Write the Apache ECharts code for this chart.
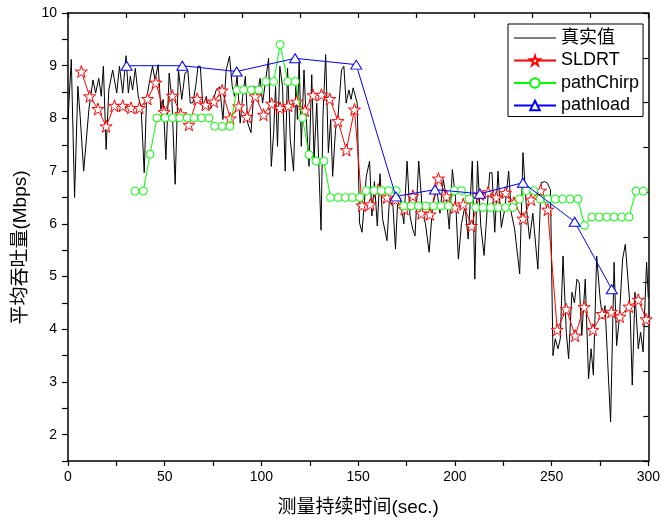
<!DOCTYPE html>
<html><head><meta charset="utf-8">
<script src="https://cdn.jsdelivr.net/npm/echarts@6/dist/echarts.min.js"></script>
<style>html,body{margin:0;padding:0;background:#fff;}#c{width:663px;height:522px;}</style>
</head><body><div id="c"></div>
<script>
// ---- data ----
const seriesNames = ['真实值', 'SLDRT', 'pathChirp', 'pathload'];
const xTickLabels = [0, 50, 100, 150, 200, 250, 300];
const yTickLabels = [2, 3, 4, 5, 6, 7, 8, 9, 10];

const realX = [0,1.7,3.4,5.1,6.3,8.1,10.8,12.9,14.3,15.9,17.2,18.3,19.7,21.1,23.1,25.2,26.6,28.3,30.0,31.2,32.2,33.4,34.8,36.3,37.8,39.4,40.6,42.0,43.7,45.0,46.6,48.0,49.2,50.6,52.3,53.7,55.4,57.1,58.8,60.5,62.0,63.2,64.6,66.0,67.2,68.4,69.8,71.5,72.7,74.1,76.6,78.4,80.1,81.8,83.5,84.9,86.1,87.4,89.0,90.3,91.7,92.9,94.6,96.3,97.5,99.3,100.6,102.3,103.7,105.1,106.3,107.3,108.3,109.5,110.9,112.3,113.5,114.9,116.6,117.8,118.6,119.5,120.6,122.0,122.9,124.6,126.0,127.2,128.6,130.8,131.8,133.2,134.6,135.8,136.8,138.3,139.5,141.4,142.6,143.8,145.2,146.3,147.4,149.5,150.7,152.0,153.2,154.2,155.9,157.1,158.4,159.9,161.3,162.6,164.9,166.2,168.0,169.3,170.5,172.2,173.6,175.3,176.8,178.2,179.4,181.3,183.3,184.8,186.7,188.5,190.6,192.3,194.0,195.6,197.1,198.7,200.3,201.8,203.4,205.2,206.9,209.0,210.3,211.7,213.4,215.1,216.8,218.0,219.2,220.6,222.3,224.0,225.8,227.8,229.2,230.9,233.5,235.2,236.9,238.6,240.3,242.9,244.6,246.3,247.6,249.4,250.7,251.9,253.3,254.5,255.9,257.6,258.8,260.5,261.8,263.1,264.3,265.6,267.4,269.1,270.4,271.6,273.3,275.1,276.4,277.6,279.0,280.5,282.3,283.6,285.0,286.7,288.1,289.1,290.5,291.7,293.1,294.8,296.0,297.3,299.1,300];
const realY = [7.98,9.12,6.5,8.61,8.04,7.0,8.17,8.73,8.48,8.76,8.42,8.99,7.41,8.54,8.92,8.48,8.99,8.48,9.19,8.48,8.8,8.54,8.95,8.42,8.2,6.97,8.36,8.67,8.99,8.73,9.02,8.17,8.36,7.22,8.86,8.36,6.75,8.92,8.36,8.86,8.9,8.29,8.3,8.6,8.99,8.99,8.17,8.42,8.17,8.2,8.54,8.6,7.98,8.92,9.18,8.61,8.42,8.8,7.91,8.42,8.8,7.91,7.73,8.61,8.36,8.76,8.29,8.76,9.14,7.09,7.73,8.61,7.47,8.99,8.61,7.0,8.95,7.6,7.0,8.61,7.98,9.11,7.47,8.92,8.17,7.09,8.83,7.22,8.29,5.88,8.04,9.21,7.35,7.98,6.9,7.79,8.0,8.92,8.99,8.29,8.54,8.36,8.58,8.29,6.02,5.84,6.4,6.9,7.19,6.15,6.8,5.96,6.95,6.1,5.68,6.46,6.33,5.52,6.5,6.4,6.0,7.19,6.15,5.9,5.77,7.19,6.2,6.0,5.46,6.35,6.66,6.2,6.84,6.5,5.9,7.03,6.5,5.33,6.0,6.34,5.71,7.19,4.95,7.19,5.96,5.4,6.34,6.97,6.97,5.84,7.0,5.93,6.28,7.0,6.2,5.9,5.05,7.35,6.34,5.71,6.2,5.14,6.78,6.8,6.78,6.65,3.5,3.82,3.63,3.82,5.39,3.94,3.44,4.7,4.5,4.95,4.88,3.88,4.95,3.06,3.63,3.13,5.39,4.57,4.2,4.45,3.38,2.24,5.27,3.69,4.2,5.33,5.61,5.58,4.45,2.94,4.7,3.63,3.94,3.57,5.27,4.6];

const sldrtX = [6.9,11.2,15.5,19.7,24.0,28.3,32.6,36.9,41.1,45.4,49.7,54.0,58.3,62.5,66.8,71.1,75.4,79.7,83.9,88.2,92.5,96.8,101.1,105.3,109.6,113.9,118.2,122.5,126.7,131.0,135.3,139.6,143.9,148.1,152.0,156.3,160.4,164.9,169.3,174.0,178.3,182.7,187.1,191.5,195.7,200.0,204.3,208.6,212.9,217.2,221.4,226.2,230.5,235.2,239.4,244.3,248.0,252.9,257.6,262.2,266.8,271.4,276.1,280.9,285.3,290.0,294.8,298.9];
const sldrtY = [8.89,8.42,8.18,7.85,8.24,8.24,8.2,8.2,8.37,8.68,8.12,8.43,8.08,7.88,8.37,8.26,8.32,8.53,8.0,8.23,8.03,8.42,8.07,8.28,8.2,8.24,8.32,8.15,8.44,8.45,8.37,7.95,7.40,8.17,6.35,6.37,6.65,6.5,6.46,6.28,6.53,6.2,6.18,6.86,6.52,6.31,6.37,5.96,6.56,6.6,6.5,6.59,6.4,6.1,6.46,6.63,6.27,3.99,4.38,3.88,4.42,3.99,4.29,4.33,4.24,4.43,4.56,4.19];

const chirpX = [34.7,38.9,42.4,46.0,50.2,54.0,57.8,61.7,65.1,69.1,72.9,75.8,79.7,83.7,87.4,90.8,94.8,98.6,102.3,106.3,109.7,113.6,117.4,121.2,124.6,128.2,132.3,135.7,139.7,143.4,147.0,150.8,154.2,158.2,162.0,165.8,169.7,173.6,177.4,181.2,185.1,189.0,192.8,196.6,199.7,203.4,207.4,210.8,214.6,218.5,222.3,226.2,230.0,233.4,237.0,240.8,244.2,248.0,251.9,255.7,259.6,263.6,267.0,270.8,274.6,278.5,282.3,286.2,290.0,293.6,297.4];
const chirpY = [6.62,6.62,7.32,8.01,8.01,8.01,8.01,8.01,8.01,8.01,8.01,7.85,7.85,7.85,8.54,8.54,8.54,8.54,8.70,8.70,9.40,8.70,8.70,8.01,7.31,7.19,7.19,6.50,6.50,6.50,6.50,6.50,6.63,6.63,6.63,6.63,6.63,6.34,6.34,6.34,6.34,6.34,6.34,6.34,6.63,6.63,6.47,6.31,6.31,6.31,6.31,6.31,6.31,6.47,6.63,6.63,6.47,6.47,6.47,6.47,6.47,6.47,5.97,6.13,6.13,6.13,6.13,6.13,6.13,6.62,6.62];

const loadX = [30.3,59.1,87.2,117.4,149.0,169.5,189.7,212.9,235.2,261.9,281.1];
const loadY = [9.0,9.0,8.89,9.14,9.02,6.52,6.65,6.57,6.78,6.04,4.76];

// ---- chart ----
const zip = (xs, ys) => xs.map((x, i) => [x, ys[i]]);
const LAT = '"Liberation Sans", Arial, "Noto Sans CJK SC", sans-serif';
const STAR = 'path://M50,0 L61.8,35.1 L98.9,35.1 L69.1,56.7 L80.3,91.9 L50,70.2 L19.7,91.9 L30.9,56.7 L1.1,35.1 L38.2,35.1 Z';
const LINE_ICON = 'path://M0,0 L100,0 L100,2.6 L0,2.6 Z';
const axisLine = {show: true, onZero: false, lineStyle: {color: '#000', width: 1.5}};

const chart = echarts.init(document.getElementById('c'), null, {renderer: 'canvas'});
chart.setOption({
  animation: false,
  backgroundColor: '#fff',
  grid: {left: 68, right: 11, top: 13, bottom: 59, containLabel: false},
  legend: {
    data: [{name: seriesNames[0], icon: LINE_ICON}, seriesNames[1], seriesNames[2], seriesNames[3]],
    orient: 'vertical',
    left: 508, top: 24,
    itemWidth: 42, itemHeight: 12, itemGap: 4.5,
    padding: [5, 4, 2, 5],
    borderColor: '#000', borderWidth: 1, borderRadius: 0,
    backgroundColor: '#fff',
    textStyle: {fontSize: 18, lineHeight: 18, color: '#000', fontFamily: LAT}
  },
  xAxis: [
    {type: 'value', position: 'bottom', min: 0, max: 300, interval: 25,
     axisLine: axisLine,
     axisTick: {show: true, inside: false, length: 5, lineStyle: {color: '#000', width: 1.2}},
     axisLabel: {color: '#000', fontSize: 14, fontFamily: LAT, margin: 9,
       formatter: v => (xTickLabels.indexOf(v) >= 0 ? String(v) : '')},
     splitLine: {show: false},
     name: '测量持续时间(sec.)', nameLocation: 'middle', nameGap: 37,
     nameTextStyle: {fontSize: 19, color: '#000', fontFamily: LAT}},
    {type: 'value', position: 'top', min: 0, max: 300, interval: 30,
     axisLine: axisLine,
     axisTick: {show: true, inside: true, length: 5, lineStyle: {color: '#000', width: 1.2}},
     axisLabel: {show: false}, splitLine: {show: false}}
  ],
  yAxis: [
    {type: 'value', position: 'left', min: 1.5, max: 10, interval: 0.5,
     axisLine: axisLine,
     axisTick: {show: true, inside: false, length: 6, lineStyle: {color: '#000', width: 1.2}},
     axisLabel: {color: '#000', fontSize: 14, fontFamily: LAT, margin: 11,
       formatter: v => (yTickLabels.indexOf(v) >= 0 ? String(v) : '')},
     splitLine: {show: false},
     name: '平均吞吐量(Mbps)', nameLocation: 'middle', nameGap: 38, nameRotate: 90,
     nameTextStyle: {fontSize: 19, color: '#000', fontFamily: LAT, padding: [0, 21, 0, 0]}},
    {type: 'value', position: 'right', min: 0, max: 10, interval: 1,
     axisLine: axisLine,
     axisTick: {show: true, inside: true, length: 5, lineStyle: {color: '#000', width: 1.2}},
     axisLabel: {show: false}, splitLine: {show: false}}
  ],
  series: [
    {name: seriesNames[0], type: 'line', data: zip(realX, realY), symbol: 'none',
     lineStyle: {color: '#000', width: 1}, itemStyle: {color: '#000'}, z: 1},
    {name: seriesNames[1], type: 'line', data: zip(sldrtX, sldrtY), symbol: STAR, symbolSize: 12,
     showAllSymbol: true,
     lineStyle: {color: '#ff0000', width: 1},
     itemStyle: {color: '#fff', borderColor: '#ff0000', borderWidth: 1}, z: 2},
    {name: seriesNames[2], type: 'line', data: zip(chirpX, chirpY), symbol: 'circle', symbolSize: 8,
     showAllSymbol: true,
     lineStyle: {color: '#00ff00', width: 1},
     itemStyle: {color: '#fff', borderColor: '#00ff00', borderWidth: 1}, z: 3},
    {name: seriesNames[3], type: 'line', data: zip(loadX, loadY), symbol: 'triangle', symbolSize: [11, 9],
     showAllSymbol: true,
     lineStyle: {color: '#0000ff', width: 1},
     itemStyle: {color: '#fff', borderColor: '#0000ff', borderWidth: 1}, z: 4}
  ]
});
</script></body></html>
